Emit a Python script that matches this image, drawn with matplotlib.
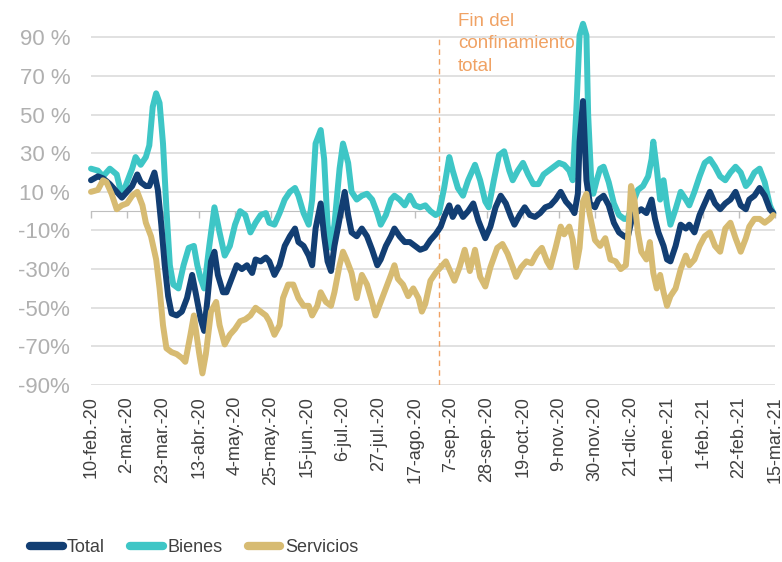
"""Consumo diario: Total, Bienes y Servicios (variación interanual)."""

import matplotlib

matplotlib.use("Agg")
import matplotlib.pyplot as plt
from matplotlib.lines import Line2D

NAVY = "#123e73"
TEAL = "#3ec6c6"
SAND = "#d7bb72"
ORANGE = "#f0a264"
GRID = "#d9d9d9"
LABEL = "#404040"
MUTED = "#b0b0b0"

# x values are days since 10-feb-2020
tick_days = list(range(0, 400, 21))
tick_labels = [
    "10-feb.-20", "2-mar.-20", "23-mar.-20", "13-abr.-20", "4-may.-20",
    "25-may.-20", "15-jun.-20", "6-jul.-20", "27-jul.-20", "17-ago.-20",
    "7-sep.-20", "28-sep.-20", "19-oct.-20", "9-nov.-20", "30-nov.-20",
    "21-dic.-20", "11-ene.-21", "1-feb.-21", "22-feb.-21", "15-mar.-21",
]
y_ticks = [90, 70, 50, 30, 10, -10, -30, -50, -70, -90]
y_labels = ["90 %", "70 %", "50 %", "30 %", "10 %", "-10%", "-30%", "-50%", "-70%", "-90%"]

lockdown_end_day = 203
lockdown_text = "Fin del\nconfinamiento\ntotal"

bienes_days = [
    0, 4, 7, 11, 15, 18, 21, 24, 26, 29, 32, 34, 36, 38, 40, 42, 44, 46, 48, 51,
    54, 57, 60, 62, 64, 66, 69, 72, 75, 78, 81, 84, 87, 90, 93,
    96, 99, 102, 104, 107, 110, 113, 116, 119, 121, 124, 127, 129, 131, 134, 136,
    138, 140, 142, 145, 147, 150, 152, 155, 158, 161, 164, 167, 169, 172, 175, 177,
    180, 183, 186, 189, 192,
    195, 198, 201, 203, 206, 209, 211, 214, 217, 220, 224, 227, 230, 232, 235, 238,
    241, 244, 246, 249, 252, 255, 258, 261, 264, 267, 270, 273, 276, 279, 281, 283,
    285, 287, 289, 290, 292, 293, 295, 297, 299,
    302, 305, 308, 311, 313, 316, 319, 322, 325, 327, 328, 330, 332, 334, 336, 338,
    341, 344, 347, 349, 352, 355, 358, 361, 364, 367, 370, 373, 376, 379, 382, 384,
    387, 390, 393, 396, 398,
]
bienes_vals = [
    22, 21, 18, 22, 19, 8, 15, 22, 28, 24, 28, 34, 54, 61, 56, 35, 1, -28, -38, -40,
    -28, -19, -18, -28, -35, -40, -18, 2, -11, -23, -18, -7, 0, -2, -11,
    -6, -2, -1, -6, -7, -1, 6, 10, 12, 8, -1, -7, 6, 35, 42, 27,
    -7, -19, -7, 22, 35, 25, 10, 6, 8, 9, 6, -1, -7, -2, 6, 8,
    6, 3, 8, 3, 2,
    3, 0, -2, -1, 12, 28, 21, 12, 8, 16, 24, 16, 5, 2, 16, 29,
    31, 21, 16, 21, 25, 19, 14, 14, 19, 21, 23, 25, 24, 21, 16, 50,
    91, 97, 91, 50, 12, 9, 16, 22, 23,
    15, 4, -2, -4, -4, 4, 11, 13, 18, 27, 36, 22, 6, 16, 3, -7,
    1, 10, 6, 3, 10, 18, 25, 27, 23, 18, 16, 20, 23, 20, 13, 15,
    20, 22, 15, 3, -1,
]

total_days = [
    0, 4, 7, 11, 15, 18, 21, 24, 27, 29, 32, 34, 37, 39, 41, 43, 45, 47, 50, 53,
    56, 59, 61, 64, 66, 68, 70, 72, 74, 77, 79, 82, 85, 88, 91, 94,
    96, 99, 102, 104, 107, 110, 113, 116, 119, 121, 124, 127, 129, 131, 134, 136,
    138, 140, 142, 145, 148, 150, 152, 155, 158, 161, 164, 167, 169, 172, 175, 177,
    180, 183, 186, 189, 192,
    195, 198, 201, 204, 206, 209, 211, 214, 217, 220, 223, 226, 230, 233, 236, 239,
    242, 245, 247, 250, 253, 256, 259, 262, 265, 268, 271, 274, 277, 280, 282, 284,
    285, 287, 289, 291, 294, 296, 299,
    302, 305, 308, 311, 313, 316, 321, 324, 327, 329, 331, 334, 336, 338, 341, 344,
    347, 349, 352, 355, 358, 361, 364, 367, 370, 373, 376, 379, 382, 384, 387, 390,
    393, 396, 398,
]
total_vals = [
    16, 18, 17, 14, 10, 7, 10, 13, 19, 15, 13, 13, 20, 11, -7, -28, -44, -53, -54, -52,
    -45, -33, -42, -56, -62, -45, -26, -21, -33, -42, -42, -35, -28, -30, -28, -32,
    -25, -26, -24, -26, -33, -28, -18, -13, -9, -16, -18, -23, -28, -9, 4, -13,
    -26, -31, -18, -4, 10, -2, -11, -13, -9, -13, -20, -28, -25, -18, -13, -9,
    -13, -16, -16, -18, -20,
    -19, -15, -12, -8, -3, 3, -3, 2, -3, 0, 4, -5, -14, -8, 2, 8,
    4, -3, -7, -2, 2, -2, -3, -1, 2, 3, 6, 10, 5, 2, -1, 9,
    36, 57, 16, 4, 2, 6, 8,
    3, -6, -11, -13, -14, -2, 1, -1, 6, -4, -11, -18, -25, -26, -18, -7,
    -9, -7, -11, -2, 4, 10, 4, 1, 4, 6, 10, 3, 1, 6, 8, 12,
    8, 1, -1,
]

servicios_days = [
    0, 4, 7, 9, 12, 15, 18, 21, 24, 27, 30, 32, 35, 38, 40, 42, 44, 47, 50, 53,
    55, 58, 60, 63, 65, 67, 70, 73, 75, 78, 81, 84, 87, 90, 93,
    96, 99, 102, 104, 107, 110, 112, 115, 118, 121, 124, 127, 129, 132, 134, 137,
    140, 142, 145, 147, 149, 152, 155, 158, 161, 164, 166, 169, 172, 175, 177, 179,
    182, 185, 188, 191, 193,
    195, 198, 201, 204, 207, 210, 212, 215, 218, 221, 224, 227, 230, 233, 237, 240,
    243, 246, 248, 251, 254, 257, 260, 263, 266, 268, 271, 274, 276, 279, 281, 283,
    285, 287, 289, 291, 294, 297,
    300, 303, 306, 309, 312, 313, 315, 317, 319, 321, 324, 326, 328, 330, 332, 334,
    336, 338, 341, 344, 347, 349, 352, 355, 358, 361, 364, 367, 370, 373, 376, 379,
    382, 384, 387, 390, 393, 396, 398,
]
servicios_vals = [
    10, 11, 16, 15, 9, 1, 3, 4, 8, 10, 3, -6, -13, -25, -40, -59, -71, -73, -74, -76,
    -78, -64, -54, -73, -84, -74, -52, -47, -59, -69, -64, -61, -57, -56, -54,
    -50, -52, -54, -57, -64, -59, -45, -38, -38, -45, -49, -49, -54, -49, -42, -47,
    -49, -42, -28, -21, -25, -32, -45, -33, -38, -47, -54, -47, -40, -33, -28, -35,
    -38, -44, -40, -45, -52,
    -48, -36, -32, -29, -26, -32, -36, -29, -20, -31, -20, -34, -39, -29, -19, -17,
    -22, -29, -34, -29, -26, -27, -22, -19, -26, -29, -19, -8, -12, -8, -15, -29,
    -19, 5, 9, -2, -15, -18,
    -14, -25, -26, -30, -28, -18, 13, 6, -11, -21, -25, -16, -32, -40, -33, -42,
    -49, -44, -40, -30, -23, -28, -25, -18, -13, -11, -18, -21, -9, -6, -14, -21,
    -14, -8, -4, -4, -6, -4, -2,
]

plt.rcParams["font.family"] = ["Liberation Sans", "DejaVu Sans"]

fig = plt.figure(figsize=(7.82, 5.62), dpi=100)
ax = fig.add_axes([91 / 782, 1 - 385 / 562, 684 / 782, 367 / 562])

line_style = dict(lw=4.3, solid_joinstyle="round", solid_capstyle="round", clip_on=False)
ax.plot(bienes_days, bienes_vals, color=TEAL, zorder=3, **line_style)
ax.plot(total_days, total_vals, color=NAVY, zorder=4, **line_style)
ax.plot(servicios_days, servicios_vals, color=SAND, zorder=5, **line_style)

ax.set_xlim(0, 399)
ax.set_ylim(-90, 100)
for s in ax.spines.values():
    s.set_visible(False)

ax.set_yticks(y_ticks, y_labels)
ax.tick_params(axis="y", length=0, pad=15, labelsize=16, labelcolor=MUTED)
ax.grid(axis="y", color=GRID, lw=1.1)
ax.set_axisbelow(True)

ax.set_xticks(tick_days, tick_labels, rotation=90)
ax.tick_params(axis="x", length=0, pad=8, labelsize=13, labelcolor=LABEL)

# zero line with its own tick marks
zero = ax.secondary_xaxis(90 / 190)
zero.set_xticks(tick_days)
zero.xaxis.set_ticks_position("bottom")
zero.tick_params(axis="x", length=5, width=1, color="#bfbfbf",
                 labelbottom=False, labeltop=False)
for name, s in zero.spines.items():
    s.set_visible(name == "bottom")
zero.spines["bottom"].set_color("#bfbfbf")

ax.vlines(lockdown_end_day, -90, 90, colors=ORANGE, linestyles=(0, (4, 3)),
          lw=1, zorder=2)
ax.text(lockdown_end_day + 11, 102.5, lockdown_text, color=ORANGE, fontsize=13.5,
        va="top", ha="left", linespacing=1.4, clip_on=False)

handles = [
    Line2D([], [], color=c, lw=6, solid_capstyle="round")
    for c in (NAVY, TEAL, SAND)
]
fig.legend(handles, ["Total", "Bienes", "Servicios"], loc="center left",
           bbox_to_anchor=(30 / 782, 14 / 562), ncol=3, frameon=False,
           fontsize=13, labelcolor=LABEL, handlelength=1.8, handletextpad=0.25,
           columnspacing=1.4, borderpad=0, borderaxespad=0)

fig.savefig("out.png", dpi=100)
